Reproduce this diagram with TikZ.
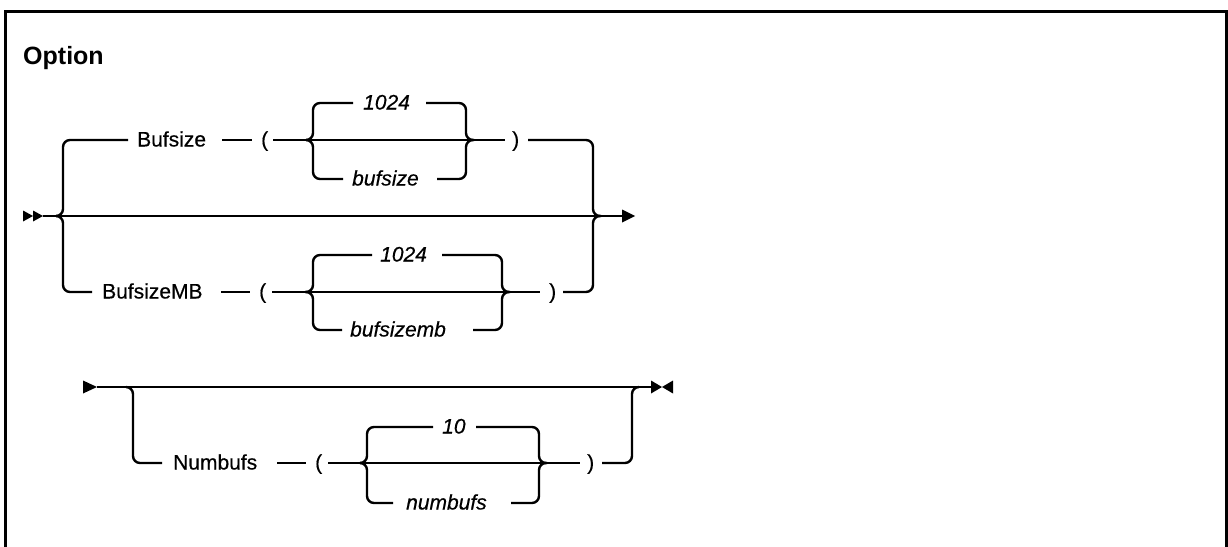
\documentclass[tikz,border=0pt]{standalone}
\usepackage{fontspec}
\setmainfont{Liberation Sans}
\newfontfamily\medsans[FakeBold=0.45]{Liberation Sans}
\begin{document}
\begin{tikzpicture}[x=1pt,y=-1pt,
  ln/.style={line width=2.4pt},
  rr/.style={line width=2.4pt, rounded corners=7pt},
  lbl/.style={anchor=base west, inner sep=0pt, font=\fontsize{21}{24}\medsans},
  var/.style={anchor=base west, inner sep=0pt, font=\fontsize{21}{24}\medsans\itshape}]
\useasboundingbox (0,0) rectangle (1228,546);
% frame
\draw[line width=3pt] (5,560) -- (5,11) -- (1226,11) -- (1226,560);
\node[anchor=base west, inner sep=0pt, font=\fontsize{25}{28}\selectfont\bfseries] (title) at (23,64) {Option};

% ---------- first diagram ----------
% texts
\node[lbl] (bufsize) at (137,146.5) {Bufsize};
\node[lbl] (lp1) at (261,146.5) {(};
\node[var] (d1) at (363,109.5) {1024};
\node[var] (v1) at (352,185.5) {bufsize};
\node[lbl] (rp1) at (512,146.5) {)};
\node[lbl] (bufsizemb) at (102,298.5) {BufsizeMB};
\node[lbl] (lp2) at (259,298.5) {(};
\node[var] (d2) at (380,261.5) {1024};
\node[var] (v2) at (350,336.5) {bufsizemb};
\node[lbl] (rp2) at (549,298.5) {)};

% coordinates
\coordinate (start) at (43,216);
\coordinate (end) at (622,216);
\coordinate (oL) at (56,216);
\coordinate (oR) at (601,216);
\coordinate (a1) at (128,140);
\coordinate (a2) at (222,140);
\coordinate (a3) at (252,140);
\coordinate (a4) at (273,140);
\coordinate (a5) at (505,140);
\coordinate (a6) at (528,140);
\coordinate (iL1) at (306,140);
\coordinate (iR1) at (474,140);
\coordinate (u1a) at (353,103);
\coordinate (u1b) at (426,103);
\coordinate (w1a) at (343,179);
\coordinate (w1b) at (437,179);
\coordinate (b1) at (92,292);
\coordinate (b2) at (221,292);
\coordinate (b3) at (250,292);
\coordinate (b4) at (272,292);
\coordinate (b5) at (540,292);
\coordinate (b6) at (563,292);
\coordinate (iL2) at (305,292);
\coordinate (iR2) at (510,292);
\coordinate (u2a) at (372,255);
\coordinate (u2b) at (442,255);
\coordinate (w2a) at (342,330);
\coordinate (w2b) at (473,330);

% arrowheads
\fill (23,210.5) -- (33,216) -- (23,221.5) -- cycle;
\fill (33,210.5) -- (43,216) -- (33,221.5) -- cycle;
\fill (end) ++(0,-6.5) -- (635,216) -- (622,222.5) -- cycle;

% main line
\draw[ln] (start) -- (end);
% outer left brace
\draw[rr] (oL) -| (63,140) -- (a1);
\draw[rr] (oL) -| (63,292) -- (b1);
% outer right brace
\draw[rr] (a6) -| (593,216) -- (oR);
\draw[rr] (b6) -| (593,216) -- (oR);
% Bufsize row
\draw[ln] (a2) -- (a3);
\draw[ln] (a4) -- (a5);
\draw[rr] (iL1) -| (313,103) -- (u1a);
\draw[rr] (iL1) -| (313,179) -- (w1a);
\draw[rr] (u1b) -| (466,140) -- (iR1);
\draw[rr] (w1b) -| (466,140) -- (iR1);
% BufsizeMB row
\draw[ln] (b2) -- (b3);
\draw[ln] (b4) -- (b5);
\draw[rr] (iL2) -| (313,255) -- (u2a);
\draw[rr] (iL2) -| (313,330) -- (w2a);
\draw[rr] (u2b) -| (502,292) -- (iR2);
\draw[rr] (w2b) -| (502,292) -- (iR2);

% ---------- second diagram ----------
\node[lbl] (numbufs) at (173,469.5) {Numbufs};
\node[lbl] (lp3) at (315,469.5) {(};
\node[var] (d3) at (442,433.5) {10};
\node[var] (v3) at (406,509.5) {numbufs};
\node[lbl] (rp3) at (587,469.5) {)};

\coordinate (s2) at (97,387);
\coordinate (e2) at (651,387);
\coordinate (pL) at (126,387);
\coordinate (pR) at (639,387);
\coordinate (c1) at (162,463);
\coordinate (c2) at (277,463);
\coordinate (c3) at (306,463);
\coordinate (c4) at (328,463);
\coordinate (c5) at (580,463);
\coordinate (c6) at (602,463);
\coordinate (iL3) at (361,463);
\coordinate (iR3) at (547,463);
\coordinate (u3a) at (433,427);
\coordinate (u3b) at (476,427);
\coordinate (w3a) at (393,503);
\coordinate (w3b) at (511,503);

\fill (83,380.5) -- (s2) -- (83,393.5) -- cycle;
\fill (e2) ++(0,-6.5) -- (662,387) -- (651,393.5) -- cycle;
\fill (673,380.5) -- (662,387) -- (673,393.5) -- cycle;

\draw[ln] (s2) -- (e2);
\draw[rr] (pL) -| (133,463) -- (c1);
\draw[rr] (c6) -| (632,387) -- (pR);
\draw[ln] (c2) -- (c3);
\draw[ln] (c4) -- (c5);
\draw[rr] (iL3) -| (367,427) -- (u3a);
\draw[rr] (iL3) -| (367,503) -- (w3a);
\draw[rr] (u3b) -| (539,463) -- (iR3);
\draw[rr] (w3b) -| (539,463) -- (iR3);
\end{tikzpicture}
\end{document}
